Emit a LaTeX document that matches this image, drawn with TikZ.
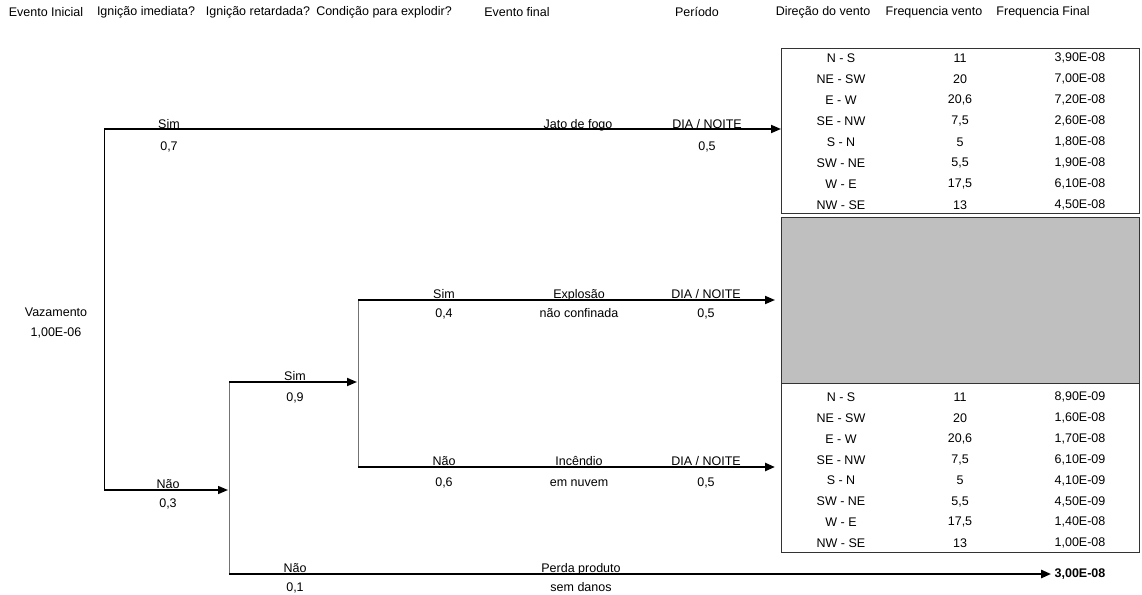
\documentclass[tikz,border=0pt]{standalone}
\usepackage{fontspec}
\setmainfont{Liberation Sans}
\usetikzlibrary{arrows.meta}

\begin{document}
\begin{tikzpicture}[x=1pt,y=-1pt,>={Triangle[length=10pt,width=8pt]},
  font=\fontsize{12.5}{14}\selectfont,
  up/.style={anchor=base,inner sep=0pt},
  stem/.style={line width=0.8pt},
  branch/.style={->,line width=1.8pt},
  heavy/.style={->,line width=2.4pt},
  tbl/.style={draw=black!80,line width=0.8pt,anchor=north west,minimum width=358pt,inner sep=0pt}]
  \useasboundingbox (0,0) rectangle (1142,594);
  % headers
  \foreach \x/\t [count=\i] in {46/Evento Inicial,146/Ignição imediata?,258/Ignição retardada?,384/Condição para explodir?,517/Evento final,697/Período,823/Direção do vento,934/Frequencia vento,1043/Frequencia Final}
    \node (head\i) at (\x,12) {\t};
  \node[align=center,font=\fontsize{12.5}{20}\selectfont] (init) at (56,323) {Vazamento\\1,00E-06};
  % tables
  \node[tbl,minimum height=165pt] (topTab) at (781,48) {};
  \node[tbl,minimum height=166pt,fill=black!25] (midTab) at (781,217) {};
  \node[tbl,minimum height=169pt] (botTab) at (781,383) {};
  \foreach \d/\v/\f [count=\i] in {N - S/11/{3,90E-08},NE - SW/20/{7,00E-08},E - W/{20,6}/{7,20E-08},SE - NW/{7,5}/{2,60E-08},S - N/5/{1,80E-08},SW - NE/{5,5}/{1,90E-08},W - E/{17,5}/{6,10E-08},NW - SE/13/{4,50E-08}} {
    \node (tdir\i) at (841,37+21*\i) {\d};
    \node (tvel\i) at (960,37+21*\i) {\v};
    \node (tfin\i) at (1080,37+21*\i) {\f};
  }
  \foreach \d/\v/\f [count=\i] in {N - S/11/{8,90E-09},NE - SW/20/{1,60E-08},E - W/{20,6}/{1,70E-08},SE - NW/{7,5}/{6,10E-09},S - N/5/{4,10E-09},SW - NE/{5,5}/{4,50E-09},W - E/{17,5}/{1,40E-08},NW - SE/13/{1,00E-08}} {
    \node (bdir\i) at (841,376.1+20.9*\i) {\d};
    \node (bvel\i) at (960,376.1+20.9*\i) {\v};
    \node (bfin\i) at (1080,376.1+20.9*\i) {\f};
  }
  \node[font=\fontsize{12.5}{14}\selectfont\bfseries] (fin) at (1080,574) {3,00E-08};
  % tree
  \coordinate (a0) at (104,129);
  \coordinate (a1) at (104,490);
  \coordinate (b0) at (229,382);
  \coordinate (b1) at (229,574);
  \coordinate (c0) at (358,300);
  \coordinate (c1) at (358,467);
  \draw[stem] (a0) -- (a1);
  \draw[stem,black!55] (b0) -- (b1);
  \draw[stem,black!55] (c0) -- (c1);
  \draw[branch] (a0) -- (a0 -| topTab.west);
  \draw[branch,line width=1.5pt,shorten >=1pt] (a1) -- (b0 |- a1);
  \draw[branch,shorten >=1pt] (b0) -- (c0 |- b0);
  \draw[branch,shorten >=6pt] (c0) -- (c0 -| midTab.west);
  \draw[heavy,shorten >=6pt] (c1) -- (c1 -| botTab.west);
  \draw[heavy] (b1) -- (fin.west);
  % labels
  \node[up] (simA) at (169,128) {Sim};
  \node[up] (pA) at (169,150) {0,7};
  \node[up] (jato) at (578,128) {Jato de fogo};
  \node[up] (perA) at (707,128) {DIA / NOITE};
  \node[up] (ppA) at (707,150) {0,5};
  \node[up] (naoA) at (168,488) {Não};
  \node[up] (pB) at (168,507) {0,3};
  \node[up] (simB) at (295,380) {Sim};
  \node[up] (pC) at (295,401) {0,9};
  \node[up] (simC) at (444,298) {Sim};
  \node[up] (pD) at (444,317) {0,4};
  \node[up] (expl) at (579,298) {Explosão};
  \node[up] (explb) at (579,317) {não confinada};
  \node[up] (perB) at (706,298) {DIA / NOITE};
  \node[up] (ppB) at (706,317) {0,5};
  \node[up] (naoC) at (444,465) {Não};
  \node[up] (pE) at (444,486) {0,6};
  \node[up] (inc) at (579,465) {Incêndio};
  \node[up] (incb) at (579,486) {em nuvem};
  \node[up] (perC) at (706,465) {DIA / NOITE};
  \node[up] (ppC) at (706,486) {0,5};
  \node[up] (naoB) at (295,572) {Não};
  \node[up] (pF) at (295,591) {0,1};
  \node[up] (perda) at (581,572) {Perda produto};
  \node[up] (perdab) at (581,591) {sem danos};
\end{tikzpicture}
\end{document}
